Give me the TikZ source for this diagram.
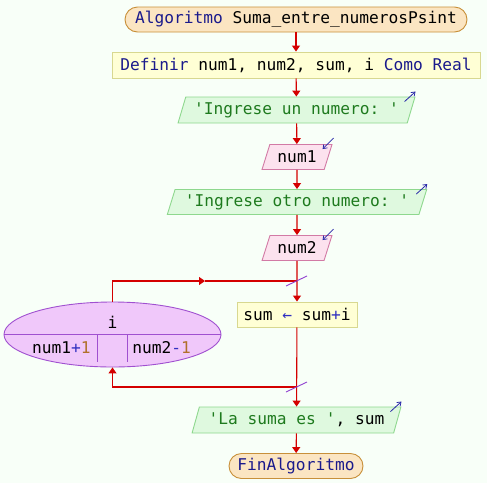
\documentclass[tikz,border=0pt]{standalone}
\usepackage{fontspec}
\setmonofont{DejaVu Sans Mono}
\usetikzlibrary{shapes.geometric,arrows.meta}
\definecolor{bg}{HTML}{F8FFF8}
\definecolor{termfill}{HTML}{FBE5C2}
\definecolor{termline}{HTML}{C8903A}
\definecolor{deffill}{HTML}{FFFFD5}
\definecolor{defline}{HTML}{D8D890}
\definecolor{outfill}{HTML}{DFF9DF}
\definecolor{outline}{HTML}{8ED88E}
\definecolor{infill}{HTML}{FCE2EE}
\definecolor{inline}{HTML}{D27AA5}
\definecolor{elfill}{HTML}{F0C8FA}
\definecolor{elline}{HTML}{A050D0}
\definecolor{flow}{HTML}{D40000}
\definecolor{kw}{HTML}{1A1A8C}
\definecolor{strc}{HTML}{1E7A1E}
\definecolor{numc}{HTML}{B0702A}
\definecolor{opc}{HTML}{3030C0}
\definecolor{iocol}{HTML}{2828A8}
\definecolor{slashc}{HTML}{9040D0}
\newcommand{\kwd}[1]{\textcolor{kw}{#1}}
\newcommand{\strg}[1]{\textcolor{strc}{#1}}
\newcommand{\numb}[1]{\textcolor{numc}{#1}}
\newcommand{\opr}[1]{\textcolor{opc}{#1}}
\tikzset{
  base/.style={font=\fontsize{16.2}{19}\selectfont\ttfamily, inner sep=0pt, line width=0.9pt, minimum height=25pt},
  term/.style={base, draw=termline, fill=termfill, rounded corners=12.5pt},
  defbox/.style={base, draw=defline, fill=deffill},
  iobox/.style={base, trapezium, trapezium left angle=65, trapezium right angle=115, trapezium stretches=true},
  outbox/.style={iobox, draw=outline, fill=outfill},
  inbox/.style={iobox, draw=inline, fill=infill},
  flowline/.style={draw=flow, line width=1.1pt},
  flowarrow/.style={flowline, -{Triangle[length=6pt,width=8pt]}},
  ioarrow/.style={draw=iocol, line width=0.8pt, -{Straight Barb[length=3.5pt,width=5pt]}},
  slash/.style={draw=slashc, line width=0.9pt},
}
\begin{document}
\begin{tikzpicture}[x=1pt,y=-1pt]
\useasboundingbox[fill=bg] (0,0) rectangle (487,483);

\node[term, minimum width=342pt] (start) at (296,19.5) {\kwd{Algoritmo} Suma\_entre\_numerosPsint};
\node[defbox, minimum width=368pt, minimum height=26pt] (def) at (296,65) {\kwd{Definir} num1, num2, sum, i \kwd{Como Real}};
\node[outbox, minimum width=237pt, minimum height=26pt] (o1) at (296.5,110) {\strg{'Ingrese un numero: '}};
\node[inbox, minimum width=70pt] (n1) at (297,157) {num1};
\node[outbox, minimum width=260pt] (o2) at (297,202) {\strg{'Ingrese otro numero: '}};
\node[inbox, minimum width=70pt] (n2) at (297,248) {num2};
\node[defbox, minimum width=120pt] (sum) at (297,314.5) {sum \opr{←} sum\opr{+}i};
\node[ellipse, draw=elline, fill=elfill, line width=0.9pt, inner sep=0pt, minimum width=217pt, minimum height=65pt] (loop) at (112.5,334.5) {};
\node[outbox, minimum width=209pt, minimum height=26pt] (o3) at (296.5,420) {\strg{'La suma es '}, sum};
\node[term, minimum width=134pt] (fin) at (296,466) {\kwd{FinAlgoritmo}};

% ellipse contents
\draw[draw=elline, line width=0.9pt] (loop.west) -- (loop.east);
\coordinate (v1t) at (97,334); \coordinate (v1b) at (97,362);
\coordinate (v2t) at (127,334); \coordinate (v2b) at (127,362);
\draw[draw=elline, line width=0.9pt] (v1t) -- (v1b) (v2t) -- (v2b);
\node[base, minimum height=0pt] (iv) at (112.5,322) {i};
\node[base, minimum height=0pt, anchor=east] (lo) at (91,348) {num1\opr{+}\numb{1}};
\node[base, minimum height=0pt, anchor=west] (hi) at (132,348) {num2\opr{-}\numb{1}};

% io markers
\draw[ioarrow] ([shift={(-11,5)}]o1.top right corner) -- ([shift={(0,-5)}]o1.top right corner);
\draw[ioarrow] ([shift={(-11,5)}]o2.top right corner) -- ([shift={(0,-5)}]o2.top right corner);
\draw[ioarrow] ([shift={(-11,5)}]o3.top right corner) -- ([shift={(0,-5)}]o3.top right corner);
\draw[ioarrow] ([shift={(1,-6)}]n1.top right corner) -- ([shift={(-10,5)}]n1.top right corner);
\draw[ioarrow] ([shift={(1,-6)}]n2.top right corner) -- ([shift={(-10,5)}]n2.top right corner);

% main flow
\draw[flowarrow] (start) -- (def);
\draw[flowarrow] (def) -- (o1);
\draw[flowarrow] (o1) -- (n1);
\draw[flowarrow] (n1) -- (o2);
\draw[flowarrow] (o2) -- (n2);
\draw[flowarrow] (n2) -- (sum);
\draw[flowarrow] (sum) -- (o3);
\draw[flowarrow] (o3) -- (fin);

% loop connectors
\coordinate (tj) at (297,281);
\coordinate (tm) at (205,281);
\coordinate (bj) at (297,387);
\draw[flowarrow] (loop.north) |- (tm);
\draw[flowline] (tm) -- (tj);
\draw[flowarrow] (bj) -| (loop.south);

% slashes
\coordinate (s1a) at (286,286); \coordinate (s1b) at (307,276);
\coordinate (s2a) at (286,392); \coordinate (s2b) at (307,382);
\draw[slash] (s1a) -- (s1b);
\draw[slash] (s2a) -- (s2b);
\end{tikzpicture}
\end{document}
